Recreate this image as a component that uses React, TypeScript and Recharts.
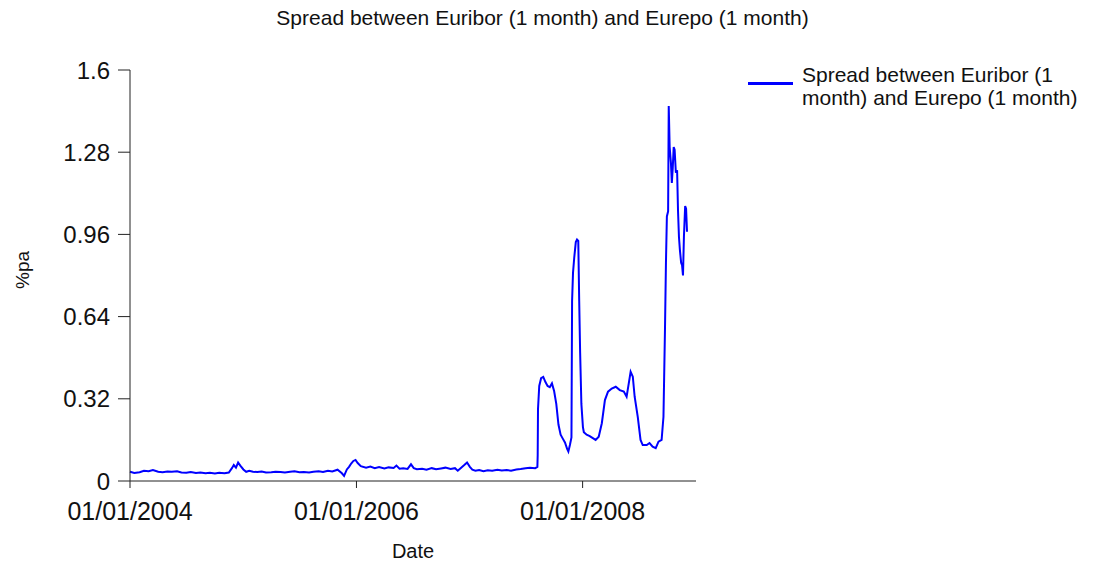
import React from 'react';
import { LineChart, Line, XAxis, YAxis, Legend, Label } from 'recharts';

const FONT = '"Liberation Sans", Arial, sans-serif';

const chartTitle = 'Spread between Euribor (1 month) and Eurepo (1 month)';
const legendLines = ['Spread between Euribor (1', 'month) and Eurepo (1 month)'];
const xAxisTitle = 'Date';
const yAxisTitle = '%pa';

const dates = [
  '2004-01-01', '2004-01-15', '2004-02-01', '2004-02-15', '2004-03-01', '2004-03-15', '2004-04-01', '2004-04-15',
  '2004-05-01', '2004-05-15', '2004-06-01', '2004-06-15', '2004-07-01', '2004-07-15', '2004-08-01', '2004-08-15',
  '2004-09-01', '2004-09-15', '2004-10-01', '2004-10-15', '2004-11-01', '2004-11-15', '2004-11-25', '2004-12-01',
  '2004-12-08', '2004-12-15', '2004-12-22', '2005-01-01', '2005-01-10', '2005-01-20', '2005-02-01',
  '2005-02-15', '2005-03-01', '2005-03-15', '2005-04-01', '2005-04-15', '2005-05-01', '2005-05-15', '2005-06-01',
  '2005-06-15', '2005-07-01', '2005-07-15', '2005-08-01', '2005-08-15', '2005-09-01', '2005-09-15', '2005-10-01',
  '2005-10-15', '2005-11-01', '2005-11-15', '2005-11-22', '2005-12-01', '2005-12-08', '2005-12-15', '2005-12-22',
  '2005-12-29', '2006-01-05', '2006-01-15',
  '2006-02-01', '2006-02-15', '2006-03-01', '2006-03-15', '2006-04-01', '2006-04-15', '2006-05-01', '2006-05-10',
  '2006-05-20', '2006-06-01', '2006-06-15', '2006-06-26', '2006-07-05', '2006-07-15', '2006-08-01', '2006-08-15',
  '2006-09-01', '2006-09-15', '2006-10-01', '2006-10-15', '2006-11-01', '2006-11-15', '2006-11-24', '2006-12-05',
  '2006-12-15', '2006-12-24',
  '2007-01-02', '2007-01-10', '2007-01-20', '2007-02-01', '2007-02-15', '2007-03-01', '2007-03-15', '2007-04-01',
  '2007-04-15', '2007-05-01', '2007-05-15', '2007-06-01', '2007-06-15', '2007-07-01', '2007-07-15', '2007-08-01',
  '2007-08-08', '2007-08-09', '2007-08-10', '2007-08-14', '2007-08-20', '2007-08-27', '2007-09-03', '2007-09-10',
  '2007-09-17', '2007-09-24', '2007-10-01', '2007-10-08', '2007-10-15', '2007-10-22', '2007-10-29', '2007-11-05',
  '2007-11-12', '2007-11-16', '2007-11-21', '2007-11-26', '2007-11-28', '2007-12-01', '2007-12-05', '2007-12-10',
  '2007-12-14', '2007-12-18', '2007-12-21', '2007-12-24', '2007-12-28',
  '2008-01-02', '2008-01-05', '2008-01-14', '2008-01-24', '2008-02-03', '2008-02-12', '2008-02-22', '2008-03-03',
  '2008-03-13', '2008-03-23', '2008-04-04', '2008-04-17', '2008-04-30', '2008-05-13', '2008-05-22', '2008-05-29',
  '2008-06-04', '2008-06-11', '2008-06-17', '2008-06-27', '2008-07-06', '2008-07-13', '2008-07-26', '2008-08-04',
  '2008-08-14', '2008-08-24', '2008-09-02', '2008-09-12', '2008-09-18', '2008-09-23', '2008-09-26', '2008-09-29',
  '2008-10-03', '2008-10-05', '2008-10-08', '2008-10-12', '2008-10-15', '2008-10-18', '2008-10-21', '2008-10-24',
  '2008-10-28', '2008-11-01', '2008-11-04', '2008-11-07', '2008-11-10', '2008-11-14', '2008-11-17', '2008-11-20',
  '2008-11-23', '2008-11-27', '2008-11-30', '2008-12-03',
];

// spread in % p.a., one value per date above
const spread = [
  0.036, 0.031, 0.034, 0.040, 0.038, 0.043, 0.036, 0.034,
  0.037, 0.036, 0.038, 0.033, 0.032, 0.035, 0.031, 0.033,
  0.030, 0.032, 0.029, 0.032, 0.030, 0.033, 0.050, 0.062,
  0.052, 0.072, 0.060, 0.045, 0.036, 0.040, 0.036,
  0.035, 0.037, 0.033, 0.034, 0.036, 0.035, 0.033, 0.036,
  0.038, 0.034, 0.035, 0.033, 0.036, 0.038, 0.035, 0.040,
  0.037, 0.044, 0.030, 0.020, 0.045, 0.055, 0.068, 0.078,
  0.082, 0.070, 0.058,
  0.052, 0.056, 0.050, 0.054, 0.049, 0.053, 0.051, 0.060,
  0.048, 0.050, 0.047, 0.065, 0.050, 0.046, 0.048, 0.044,
  0.050, 0.046, 0.049, 0.052, 0.047, 0.050, 0.040, 0.052,
  0.062, 0.072,
  0.055, 0.044, 0.040, 0.043, 0.038, 0.042, 0.040, 0.044,
  0.041, 0.043, 0.040, 0.045, 0.047, 0.050, 0.052, 0.050,
  0.055, 0.100, 0.280, 0.370, 0.400, 0.405, 0.385, 0.370,
  0.365, 0.380, 0.350, 0.300, 0.220, 0.180, 0.165, 0.150,
  0.125, 0.115, 0.140, 0.170, 0.700, 0.810, 0.870, 0.930,
  0.940, 0.935, 0.700, 0.500, 0.300,
  0.210, 0.190, 0.180, 0.175, 0.167, 0.160, 0.172, 0.225,
  0.315, 0.348, 0.360, 0.367, 0.354, 0.348, 0.328, 0.380,
  0.425, 0.406, 0.328, 0.250, 0.160, 0.140, 0.140, 0.148,
  0.134, 0.128, 0.153, 0.160, 0.250, 0.600, 0.850, 1.030,
  1.050, 1.460, 1.300, 1.240, 1.160, 1.220, 1.300, 1.290,
  1.200, 1.210, 1.050, 0.950, 0.900, 0.850, 0.840, 0.800,
  0.950, 1.070, 1.060, 0.970,
];

const xDomainDates = ['2004-01-01', '2009-01-01'];
const xTickDates = ['2004-01-01', '2006-01-01', '2008-01-01'];
const yTicks = [0, 0.32, 0.64, 0.96, 1.28, 1.6];

const toTime = (s: string) => Date.parse(s + 'T00:00:00Z');

const data = dates.map((d, i) => ({ t: toTime(d), v: spread[i] }));

const fmtDate = (t: number) => {
  const d = new Date(t);
  const dd = String(d.getUTCDate()).padStart(2, '0');
  const mm = String(d.getUTCMonth() + 1).padStart(2, '0');
  return `${dd}/${mm}/${d.getUTCFullYear()}`;
};

const renderLegend = (props: any) => {
  const color = props.payload && props.payload[0] ? props.payload[0].color : '#0000ff';
  return (
    <div style={{ display: 'flex', alignItems: 'flex-start', fontFamily: FONT }}>
      <svg width={56} height={30} style={{ flex: 'none' }}>
        <line x1={2} x2={47} y1={20.5} y2={20.5} stroke={color} strokeWidth={3} />
      </svg>
      <div style={{ fontSize: 21, lineHeight: '23px', color: '#111', whiteSpace: 'nowrap' }}>
        {legendLines.map((l) => (
          <div key={l}>{l}</div>
        ))}
      </div>
    </div>
  );
};

const App = () => {
  return (
    <div style={{ position: 'relative', width: 1095, height: 564, background: '#fff', fontFamily: FONT }}>
      <style>{'body{margin:0}'}</style>
      <div
        style={{
          position: 'absolute',
          left: 0,
          top: 6,
          width: 1085,
          textAlign: 'center',
          fontSize: 21,
          lineHeight: '24px',
          color: '#111',
        }}
      >
        {chartTitle}
      </div>
      <LineChart width={1095} height={564} data={data} margin={{ top: 70, right: 399, bottom: 0, left: 0 }}>
        <XAxis
          dataKey="t"
          type="number"
          domain={xDomainDates.map(toTime)}
          ticks={xTickDates.map(toTime)}
          tickFormatter={fmtDate}
          interval={0}
          height={83}
          tickSize={7}
          tickMargin={14}
          axisLine={{ stroke: '#222' }}
          tickLine={{ stroke: '#222' }}
          tick={{ fontSize: 25, fill: '#111', fontFamily: FONT }}
        >
          <Label value={xAxisTitle} position="insideBottom" offset={6} style={{ fontSize: 20, fill: '#111', fontFamily: FONT }} />
        </XAxis>
        <YAxis
          type="number"
          domain={[0, 1.6]}
          ticks={yTicks}
          interval={0}
          width={130}
          tickSize={12}
          tickMargin={8}
          axisLine={{ stroke: '#222' }}
          tickLine={{ stroke: '#222' }}
          tick={{ fontSize: 24, fill: '#111', fontFamily: FONT }}
        >
          <Label
            content={() => (
              <text
                x={22}
                y={270}
                transform="rotate(-90 22 270)"
                textAnchor="middle"
                dominantBaseline="central"
                style={{ fontSize: 19, fill: '#111', fontFamily: FONT }}
              >
                {yAxisTitle}
              </text>
            )}
          />
        </YAxis>
        <Legend
          layout="vertical"
          align="center"
          verticalAlign="middle"
          wrapperStyle={{ left: 746, top: 63, width: 345 }}
          content={renderLegend}
        />
        <Line
          type="linear"
          dataKey="v"
          name={chartTitle}
          stroke="#0000ff"
          strokeWidth={2}
          dot={false}
          activeDot={false}
          isAnimationActive={false}
        />
      </LineChart>
    </div>
  );
};

export default App;
